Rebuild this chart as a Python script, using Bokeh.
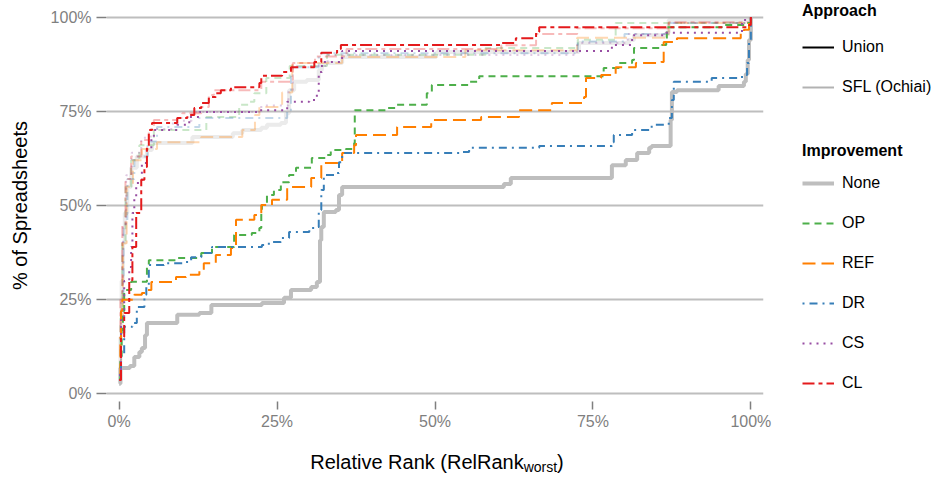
import math
from bokeh.plotting import figure
from bokeh.models import Range1d, Legend, LegendItem, FixedTicker
from bokeh.layouts import row, column
from bokeh.core.properties import value
from bokeh.embed import file_html
from bokeh.resources import INLINE

FONT = "Liberation Sans"

# ---------------- data (percent) ----------------
improvements = ["None", "OP", "REF", "DR", "CS", "CL"]
approaches = ["Union", "SFL (Ochiai)"]
tick_values = [0, 25, 50, 75, 100]
tick_labels = ["0%", "25%", "50%", "75%", "100%"]
x_title_main = "Relative Rank (RelRank"
x_title_sub = "worst"
x_title_end = ")"
y_title = "% of Spreadsheets"

# Union approach
union_none_x = [0, 0.2, 1.7, 2.4, 3.2, 3.6, 4.1, 4.4, 9.2, 12.7, 14.6, 22.6, 26.1, 27.2, 30.4, 31.3, 31.8, 32.0, 32.4, 34.3, 34.8, 35.3, 60.9, 62.0, 78.0, 80.2, 82.0, 83.9, 84.3, 87.3, 87.5, 88.3, 94.9, 98.9, 99.2, 99.5, 99.7, 100]
union_none_y = [2.7, 6.9, 7.4, 9.8, 11.1, 12.2, 15.6, 18.8, 21.0, 21.5, 23.6, 24.1, 25.5, 27.6, 28.4, 29.7, 40.8, 44.3, 48.3, 48.8, 52.8, 54.9, 55.7, 57.3, 60.7, 62.1, 63.9, 65.3, 65.8, 72.7, 80.1, 80.6, 81.7, 82.8, 84.9, 88.6, 93.9, 100]

union_op_x = [0, 0.2, 0.4, 0.6, 0.8, 1.9, 4.4, 4.7, 9.0, 13.0, 14.7, 18.2, 21.0, 22.2, 22.5, 22.6, 23.4, 24.5, 25.6, 26.9, 28.0, 30.5, 32.8, 33.5, 35.9, 37.2, 37.3, 42.4, 43.8, 48.7, 49.5, 55.4, 57.0, 76.7, 79.1, 81.2, 81.5, 85.9, 86.6, 86.7, 95.4, 99.2, 100]
union_op_y = [4.0, 10.0, 17.0, 22.0, 27.6, 29.8, 33.7, 35.5, 36.1, 37.4, 39.0, 42.2, 42.7, 44.0, 48.0, 50.1, 52.8, 54.1, 56.2, 58.1, 60.0, 62.6, 63.4, 64.7, 65.0, 66.6, 75.3, 75.9, 76.7, 79.8, 82.0, 82.8, 84.3, 86.5, 87.8, 88.6, 91.8, 92.6, 93.9, 97.3, 97.9, 98.4, 100]

union_ref_x = [0, 0.2, 0.3, 0.5, 2.4, 3.6, 4.3, 5.1, 9.0, 10.6, 12.7, 13.4, 15.3, 17.7, 18.5, 21.4, 22.5, 24.2, 26.6, 30.4, 32.0, 35.3, 37.2, 37.5, 44.0, 49.4, 57.3, 63.3, 68.5, 73.6, 73.9, 76.3, 78.6, 81.8, 85.8, 86.2, 88.3, 98.4, 98.9, 99.7, 100]
union_ref_y = [5.0, 15.0, 22.0, 25.0, 26.3, 26.8, 27.6, 29.7, 31.0, 31.6, 32.9, 34.7, 36.9, 38.7, 46.2, 47.5, 50.1, 51.5, 54.9, 57.3, 61.3, 63.9, 66.0, 68.7, 70.8, 72.7, 73.5, 75.3, 77.2, 78.8, 83.8, 84.6, 86.7, 87.8, 88.1, 93.4, 94.4, 95.8, 96.6, 99.2, 100]

union_dr_x = [0, 0.3, 0.8, 2.1, 2.8, 4.0, 4.3, 4.7, 7.1, 10.0, 11.4, 13.0, 14.6, 14.7, 22.6, 23.7, 25.6, 26.9, 30.1, 31.3, 31.6, 32.0, 32.4, 34.3, 34.8, 35.3, 54.3, 55.4, 66.5, 78.0, 78.3, 81.2, 84.3, 87.0, 87.5, 87.8, 93.8, 98.6, 99.4, 99.7, 100]
union_dr_y = [5.0, 10.0, 17.8, 18.8, 23.1, 26.3, 28.4, 34.2, 34.7, 35.0, 36.3, 37.4, 38.2, 39.0, 39.5, 40.3, 41.4, 43.0, 44.0, 44.3, 48.8, 54.1, 58.1, 58.6, 61.5, 63.9, 64.2, 65.3, 65.8, 66.8, 68.7, 70.0, 71.4, 73.2, 78.0, 82.8, 83.8, 84.6, 87.8, 93.9, 100]

union_cs_x = [0, 0.3, 0.8, 1.6, 1.9, 2.1, 2.4, 2.7, 3.6, 4.4, 5.1, 5.5, 9.2, 11.1, 12.7, 22.2, 26.6, 30.1, 31.3, 31.6, 32.1, 35.3, 78.0, 81.2, 86.6, 98.6, 100]
union_cs_y = [5.0, 19.6, 30.0, 33.7, 39.0, 48.0, 52.3, 56.0, 61.3, 64.7, 67.9, 70.0, 71.4, 73.5, 74.8, 75.3, 77.5, 78.0, 80.1, 85.4, 88.1, 91.0, 92.6, 95.2, 95.8, 99.2, 100]

union_cl_x = [0, 0.3, 0.8, 1.6, 2.1, 2.7, 3.5, 4.0, 4.4, 4.7, 5.2, 9.2, 10.8, 11.9, 13.0, 14.2, 15.3, 16.1, 17.7, 22.2, 22.5, 25.8, 27.2, 30.9, 32.0, 34.5, 35.1, 60.4, 62.8, 66.0, 66.5, 99.7, 100]
union_cl_y = [3.7, 15.1, 21.5, 30.2, 39.0, 48.0, 56.8, 60.2, 65.5, 70.0, 71.9, 73.2, 74.0, 75.9, 77.2, 78.8, 79.8, 80.6, 81.4, 82.5, 84.4, 85.4, 86.7, 88.1, 90.5, 91.5, 92.6, 93.1, 94.4, 96.0, 97.3, 97.9, 100]

# SFL (Ochiai) approach
sfl_none_x = [0, 0.2, 0.4, 0.6, 0.9, 1.3, 1.9, 2.8, 4.4, 5.2, 11.6, 18.0, 19.5, 22.5, 23.4, 25.6, 26.4, 26.9, 27.7, 29.7, 31.6, 32.1, 35.3, 50.2, 50.3, 72.8, 80.7, 81.5, 86.6, 87.0, 100]
sfl_none_y = [3.0, 15.0, 30.0, 40.0, 48.0, 55.0, 60.0, 63.0, 64.7, 66.6, 68.2, 69.2, 70.0, 70.6, 71.4, 71.9, 74.5, 80.6, 82.8, 83.3, 85.9, 87.8, 89.4, 90.0, 90.7, 93.1, 93.9, 95.2, 95.8, 99.2, 100]

sfl_op_x = [0, 0.2, 0.5, 1.0, 1.9, 3.2, 5.5, 13.8, 19.0, 20.6, 21.4, 23.3, 27.0, 32.9, 58.0, 72.6, 78.6, 100]
sfl_op_y = [4.0, 20.0, 40.0, 55.0, 62.0, 66.0, 70.0, 73.5, 76.7, 77.5, 79.8, 83.8, 87.0, 90.0, 91.8, 94.0, 98.4, 100]

sfl_ref_x = [0, 0.3, 0.6, 1.2, 2.2, 3.6, 6.0, 13.0, 19.5, 21.5, 22.2, 25.8, 27.4, 35.3, 54.8, 72.5, 87.0, 100]
sfl_ref_y = [4.0, 20.0, 40.0, 55.0, 62.0, 65.0, 66.8, 68.2, 70.0, 74.0, 76.1, 80.0, 87.8, 89.4, 91.2, 94.5, 98.4, 100]

sfl_dr_x = [0, 0.3, 0.7, 1.3, 2.4, 4.5, 6.0, 12.7, 26.6, 27.2, 31.6, 72.6, 80.0, 87.0, 100]
sfl_dr_y = [4.0, 22.0, 45.0, 57.0, 63.0, 67.0, 70.8, 73.2, 75.3, 86.7, 90.4, 93.5, 95.5, 98.4, 100]

sfl_cs_x = [0, 0.3, 0.6, 1.1, 2.0, 3.5, 5.0, 8.5, 11.5, 22.5, 26.8, 27.5, 33.0, 72.5, 80.5, 87.0, 100]
sfl_cs_y = [4.0, 25.0, 45.0, 58.0, 64.0, 68.0, 70.3, 72.5, 74.8, 76.5, 80.6, 87.0, 89.9, 93.1, 95.5, 98.4, 100]

sfl_cl_x = [0, 0.2, 0.5, 1.0, 1.9, 3.5, 4.7, 5.5, 9.2, 10.0, 13.0, 14.2, 15.0, 22.5, 27.2, 27.5, 31.0, 36.0, 60.5, 66.0, 72.5, 87.0, 100]
sfl_cl_y = [4.0, 25.0, 45.0, 57.0, 63.0, 67.4, 70.0, 72.7, 73.2, 74.5, 76.1, 79.3, 80.6, 82.8, 83.3, 87.8, 89.5, 91.5, 92.5, 95.5, 97.0, 98.6, 100]

union_series = {
    "None": (union_none_x, union_none_y), "OP": (union_op_x, union_op_y),
    "REF": (union_ref_x, union_ref_y), "DR": (union_dr_x, union_dr_y),
    "CS": (union_cs_x, union_cs_y), "CL": (union_cl_x, union_cl_y),
}
sfl_series = {
    "None": (sfl_none_x, sfl_none_y), "OP": (sfl_op_x, sfl_op_y),
    "REF": (sfl_ref_x, sfl_ref_y), "DR": (sfl_dr_x, sfl_dr_y),
    "CS": (sfl_cs_x, sfl_cs_y), "CL": (sfl_cl_x, sfl_cl_y),
}

# ---------------- styles ----------------
colors = {"None": "#BEBEBE", "OP": "#4DAF4A", "REF": "#FF7F00",
          "DR": "#377EB8", "CS": "#984EA3", "CL": "#E41A1C"}
dashes = {"None": "solid", "OP": "7 5", "REF": "13 6", "DR": "2 5 8 5",
          "CS": "2 5", "CL": "12 4 4 4"}
widths = {"None": 4, "OP": 2, "REF": 2, "DR": 2, "CS": 2, "CL": 2}
SFL_ALPHA = 0.3
TICK_GRAY = "#7F7F7F"

# ---------------- main plot ----------------
BORDER_L, FRAME_W, BORDER_R = 106, 657, 17
P_WIDTH = BORDER_L + FRAME_W + BORDER_R
p = figure(frame_width=FRAME_W, frame_height=392,
           min_border_left=BORDER_L, min_border_right=BORDER_R, min_border_top=9, min_border_bottom=30,
           x_range=Range1d(-2, 102), y_range=Range1d(-2, 102),
           output_backend="svg", toolbar_location=None)
p.outline_line_color = None
p.background_fill_color = "white"
p.xgrid.visible = False
p.ygrid.grid_line_color = "#BEBEBE"
p.ygrid.grid_line_width = 2

for ax in (p.xaxis[0], p.yaxis[0]):
    ax.ticker = FixedTicker(ticks=tick_values)
    ax.major_label_overrides = {v: s for v, s in zip(tick_values, tick_labels)}
    ax.axis_line_color = None
    ax.major_tick_line_color = TICK_GRAY
    ax.major_tick_line_width = 1.5
    ax.major_tick_in = 0
    ax.minor_tick_line_color = None
    ax.major_label_text_color = TICK_GRAY
    ax.major_label_text_font = FONT
    ax.major_label_text_font_size = "16px"

p.xaxis.major_tick_out = 8
p.yaxis.major_tick_out = 10
p.xaxis.major_label_standoff = 3
p.yaxis.major_label_standoff = 5
p.yaxis.axis_label = y_title
p.yaxis.axis_label_text_font = FONT
p.yaxis.axis_label_text_font_size = "20px"
p.yaxis.axis_label_text_font_style = "normal"
p.yaxis.axis_label_text_color = "black"
p.yaxis.axis_label_standoff = 17

for imp in improvements:
    xs, ys = sfl_series[imp]
    p.step(xs, ys, mode="after", line_color=colors[imp], line_width=widths[imp],
           line_dash=dashes[imp], line_alpha=SFL_ALPHA)
for imp in improvements:
    xs, ys = union_series[imp]
    p.step(xs, ys, mode="after", line_color=colors[imp], line_width=widths[imp],
           line_dash=dashes[imp])

# ---------------- x axis title (with subscript), shares the x scale ----------------
T_H = 44
tfig = figure(width=P_WIDTH, height=T_H, x_range=p.x_range, y_range=Range1d(0, T_H),
              x_axis_location=None, y_axis_location=None,
              min_border_left=BORDER_L, min_border_right=BORDER_R, min_border_top=0, min_border_bottom=0,
              output_backend="svg", toolbar_location=None)
tfig.grid.visible = False
tfig.outline_line_color = None
main_w, sub_w, end_w = 213.4, 33.4, 6.7
off0 = -(main_w + sub_w + end_w) / 2 + 2
title_style = dict(text_font=value(FONT), text_align="left", text_baseline="middle", text_color="black")
tfig.text(x=[50], y=[15], text=[x_title_main], x_offset=off0, text_font_size="20px", **title_style)
tfig.text(x=[50], y=[10], text=[x_title_sub], x_offset=off0 + main_w, text_font_size="14px", **title_style)
tfig.text(x=[50], y=[15], text=[x_title_end], x_offset=off0 + main_w + sub_w, text_font_size="20px", **title_style)

# ---------------- legend panel ----------------
LH = 462
lg = figure(width=152, height=LH, x_range=Range1d(0, 1), y_range=Range1d(0, 1),
            x_axis_location=None, y_axis_location=None,
            min_border_left=0, min_border_right=0, min_border_top=0, min_border_bottom=0,
            output_backend="svg", toolbar_location=None)
lg.grid.visible = False
lg.outline_line_color = None

nan = [math.nan]
r_union = lg.line(nan, nan, line_color="black", line_width=2)
r_sfl = lg.line(nan, nan, line_color="black", line_width=2, line_alpha=SFL_ALPHA)
imp_renderers = {imp: lg.line(nan, nan, line_color=colors[imp], line_width=widths[imp],
                              line_dash=dashes[imp]) for imp in improvements}

def style_legend(leg):
    leg.title_text_font = FONT
    leg.title_text_font_size = "16px"
    leg.title_text_font_style = "bold"
    leg.title_text_color = "black"
    leg.label_text_font = FONT
    leg.label_text_font_size = "16px"
    leg.label_text_color = "black"
    leg.glyph_width = 32
    leg.glyph_height = 20
    leg.label_height = 20
    leg.label_standoff = 8
    leg.spacing = 20
    leg.padding = 0
    leg.margin = 0
    leg.border_line_color = None
    leg.background_fill_alpha = 0

leg1 = Legend(items=[LegendItem(label=approaches[0], renderers=[r_union]),
                     LegendItem(label=approaches[1], renderers=[r_sfl])],
              title="Approach", location=(22, 365))
style_legend(leg1)
leg1.title_standoff = 17
leg2 = Legend(items=[LegendItem(label=imp, renderers=[imp_renderers[imp]]) for imp in improvements],
              title="Improvement", location=(22, 69))
style_legend(leg2)
leg2.title_standoff = 13
lg.add_layout(leg1, "center")
lg.add_layout(leg2, "center")

layout = row(column(p, tfig), lg)
open("out.html", "w").write(file_html(layout, INLINE))
